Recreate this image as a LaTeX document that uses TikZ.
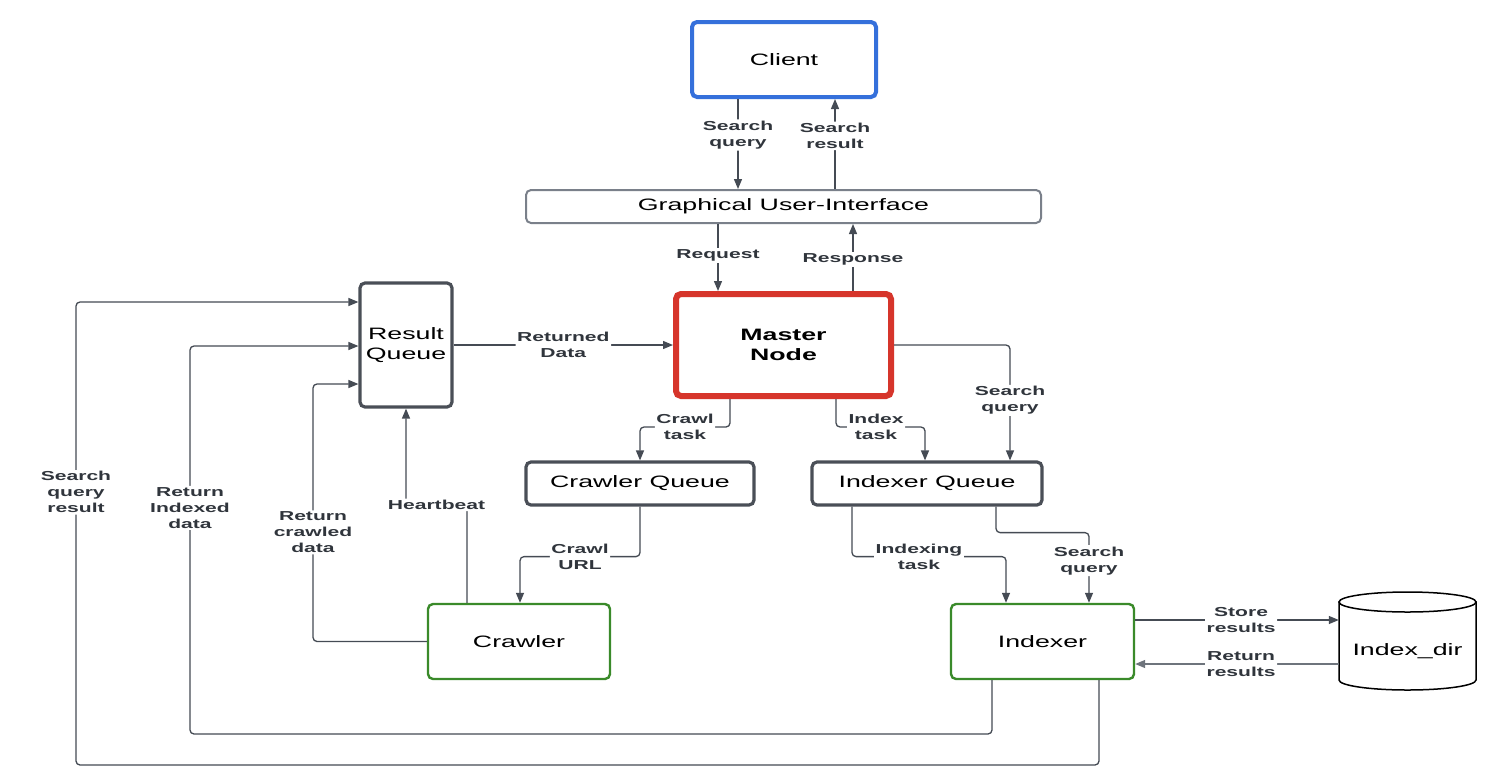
\documentclass[tikz,border=0pt]{standalone}
\usepackage{fontspec}
\newfontfamily\dfont[FakeStretch=1.62]{Liberation Sans}
\usetikzlibrary{arrows.meta}
\definecolor{lc}{HTML}{454B54}
\definecolor{lc2}{HTML}{6E747C}
\definecolor{lblc}{HTML}{30353C}
\definecolor{cblue}{HTML}{3570DB}
\definecolor{cred}{HTML}{D6352B}
\definecolor{cgreen}{HTML}{3A8A2A}
\definecolor{qgray}{HTML}{4A4F57}
\definecolor{ggray}{HTML}{7A808A}
\tikzset{
  box/.style={rectangle, rounded corners=5pt, fill=white, align=center, text=black,
    font=\dfont\fontsize{16.5}{20}\selectfont, inner sep=0pt},
  clientbox/.style={box, draw=cblue, line width=4pt},
  guibox/.style={box, draw=ggray, line width=2pt},
  masterbox/.style={box, draw=cred, line width=6pt, font=\dfont\bfseries\fontsize{16.5}{20}\selectfont},
  queuebox/.style={box, draw=qgray, line width=3.2pt},
  workerbox/.style={box, draw=cgreen, line width=2.4pt},
  conn/.style={draw=lc, line width=1.3pt, rounded corners=4pt, -{Triangle[length=10pt,width=8pt]}},
  lbl/.style={fill=white, text=lblc, align=center, inner sep=1.5pt,
    font=\dfont\bfseries\fontsize{13}{16}\selectfont},
}
\begin{document}
\begin{tikzpicture}[x=1pt,y=-1pt]
\useasboundingbox (0,0) rectangle (1504,782);
\fill[white] (0,0) rectangle (1504,782);

% nodes
\node[clientbox, minimum width=184pt, minimum height=75pt] (client) at (784,59.5) {Client};
\node[guibox, minimum width=515pt, minimum height=33pt] (gui) at (783.5,206.5) {Graphical User-Interface};
\node[masterbox, minimum width=215pt, minimum height=102pt] (master) at (783.5,345) {Master\\Node};
\node[queuebox, minimum width=92pt, minimum height=124pt] (rq) at (406,345) {Result\\Queue};
\node[queuebox, minimum width=228pt, minimum height=43pt] (cq) at (640,483.5) {Crawler Queue};
\node[queuebox, minimum width=230pt, minimum height=43pt] (iq) at (927,483.5) {Indexer Queue};
\node[workerbox, minimum width=182pt, minimum height=75pt] (crawler) at (519,641.5) {Crawler};
\node[workerbox, minimum width=183pt, minimum height=75pt] (indexer) at (1042.5,641.5) {Indexer};
\node[rectangle, minimum width=137pt, minimum height=98pt, inner sep=0pt] (idx) at (1407.5,641) {};

% cylinder outline for Index_dir (y axis points down)
\draw[black, line width=1.5pt, fill=white]
  (1339,602) -- (1339,680)
  arc[start angle=180, end angle=360, x radius=68.5pt, y radius=10pt]
  -- (1476,602) -- cycle;
\draw[black, line width=1.5pt, fill=white] (1407.5,602) ellipse[x radius=68.5pt, y radius=10pt];
\node[font=\dfont\fontsize{16.5}{20}\selectfont] (idxlabel) at (1407.5,651) {Index\_dir};

% x / y helper coordinates
\coordinate (xA) at (738,0);
\coordinate (xB) at (835,0);
\coordinate (xC) at (718,0);
\coordinate (xD) at (853,0);
\coordinate (xE) at (730,0);
\coordinate (xF) at (640,0);
\coordinate (xG) at (836,0);
\coordinate (xH) at (925,0);
\coordinate (xI) at (1010,0);
\coordinate (xJ) at (520,0);
\coordinate (xK) at (852,0);
\coordinate (xL) at (1006,0);
\coordinate (xM) at (996,0);
\coordinate (xN) at (1089,0);
\coordinate (xO) at (467,0);
\coordinate (xP) at (992,0);
\coordinate (xQ) at (1099,0);
\coordinate (yS) at (0,620);
\coordinate (yR) at (0,664);

% client <-> gui
\draw[conn] (client.south -| xA) -- node[lbl, pos=0.4] (l1) {Search\\query} (gui.north -| xA);
\draw[conn] (gui.north -| xB) -- node[lbl, pos=0.59] (l2) {Search\\result} (client.south -| xB);
% gui <-> master
\draw[conn] (gui.south -| xC) -- node[lbl, pos=0.47] (l3) {Request} (master.north -| xC);
\draw[conn] (master.north -| xD) -- node[lbl, pos=0.47] (l4) {Response} (gui.south -| xD);
% result queue -> master
\draw[conn] (rq.east) -- node[lbl, pos=0.5] (l5) {Returned\\Data} (master.west);
% master -> queues
\draw[conn] (master.south -| xE) -- ++(0,28) -| node[lbl, pos=0.25] (l6) {Crawl\\task} (cq.north -| xF);
\draw[conn] (master.south -| xG) -- ++(0,28) -| node[lbl, pos=0.225] (l7) {Index\\task} (iq.north -| xH);
\draw[conn] (master.east) -| node[lbl, pos=0.74] (l8) {Search\\query} (iq.north -| xI);
% queues -> workers
\draw[conn] (cq.south -| xF) -- ++(0,50) -| node[lbl, pos=0.25] (l9) {Crawl\\URL} (crawler.north -| xJ);
\draw[conn] (iq.south -| xK) -- ++(0,50) -| node[lbl, pos=0.2175] (l10) {Indexing\\task} (indexer.north -| xL);
\draw[conn] (iq.south -| xM) -- ++(0,26) -| node[lbl, pos=0.7] (l11) {Search\\query} (indexer.north -| xN);
% indexer <-> index_dir
\draw[conn] (indexer.east |- yS) -- node[lbl, pos=0.52] (l12) {Store\\results} (idx.west |- yS);
\draw[conn, draw=lc2] (idx.west |- yR) -- node[lbl, pos=0.48] (l13) {Return\\results} (indexer.east |- yR);
% crawler -> result queue
\draw[conn] (crawler.north -| xO) -- ++(0,-98) -| node[lbl, pos=0.25] (l14) {Heartbeat} (rq.south);
\draw[conn] (crawler.west) -| node[lbl, pos=0.712] (l15) {Return\\crawled\\data} (313,384) -- (rq.west |- 0,384);
% indexer -> result queue
\draw[conn] (indexer.south -| xP) |- (190,734) -- node[lbl, pos=0.583] (l16) {Return\\Indexed\\data} (190,346) -- (rq.west |- 0,346);
\draw[conn] (indexer.south -| xQ) |- (76,765) -- node[lbl, pos=0.589] (l17) {Search\\query\\result} (76,302) -- (rq.west |- 0,302);
\end{tikzpicture}
\end{document}
